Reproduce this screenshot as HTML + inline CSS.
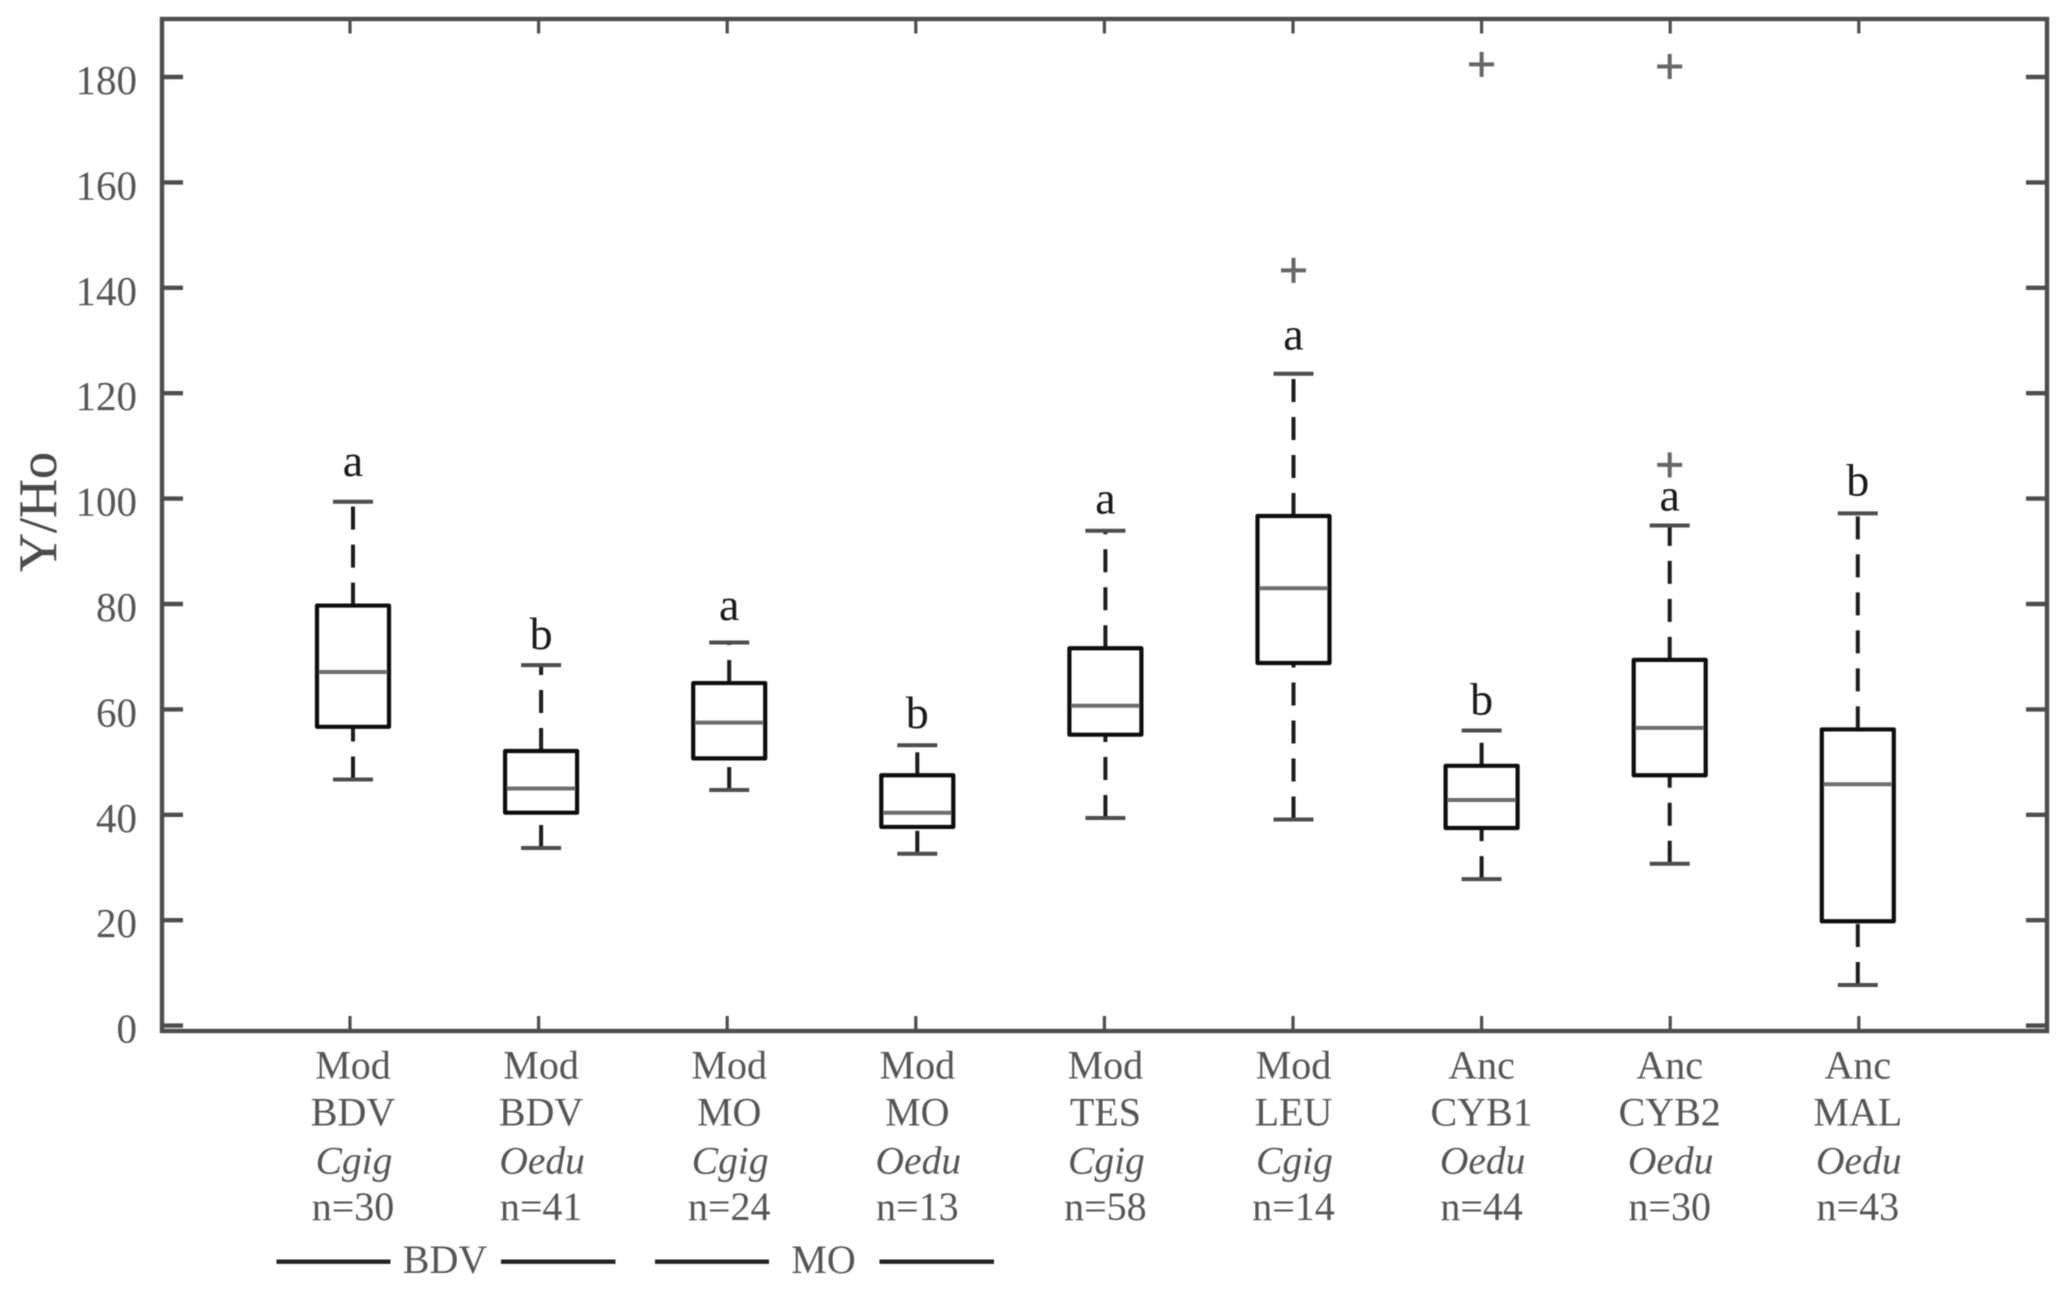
<!DOCTYPE html>
<html lang="en">
<head>
<meta charset="utf-8">
<title>Y/Ho boxplot</title>
<style>
html,body{margin:0;padding:0;background:#fff;}
svg{display:block;filter:blur(0.45px);}
text{font-family:"Liberation Serif",serif;}
</style>
</head>
<body>
<svg id="chart" xmlns="http://www.w3.org/2000/svg" width="2067" height="1293" viewBox="0 0 2067 1293">
<rect x="0" y="0" width="2067" height="1293" fill="#fff"/>
<g id="axes"></g>
<g id="marks"></g>
<g id="labels"></g>
<rect x="162" y="19" width="1885" height="1012" fill="none" stroke="#4d4d4d" stroke-width="4.4"/>
<text transform="translate(56,512) rotate(-90)" text-anchor="middle" font-size="54" fill="#4a4a4a" stroke="#4a4a4a" stroke-width="0.3">Y/Ho</text>
<g>
<line x1="276.5" x2="390.5" y1="1261.7" y2="1261.7" stroke="#222" stroke-width="4.4"/>
<text x="445" y="1273" text-anchor="middle" font-size="40" fill="#555">BDV</text>
<line x1="501" x2="615.5" y1="1261.7" y2="1261.7" stroke="#222" stroke-width="4.4"/>
</g>
<g>
<line x1="655" x2="769" y1="1261.7" y2="1261.7" stroke="#222" stroke-width="4.4"/>
<text x="823.5" y="1273" text-anchor="middle" font-size="40" fill="#555">MO</text>
<line x1="879.5" x2="994" y1="1261.7" y2="1261.7" stroke="#222" stroke-width="4.4"/>
</g>
</svg>
<script>
// ---- data ----
const yTickLabels = [0, 20, 40, 60, 80, 100, 120, 140, 160, 180];
const ages = ["Mod", "Mod", "Mod", "Mod", "Mod", "Mod", "Anc", "Anc", "Anc"];
const sites = ["BDV", "BDV", "MO", "MO", "TES", "LEU", "CYB1", "CYB2", "MAL"];
const species = ["Cgig", "Oedu", "Cgig", "Oedu", "Cgig", "Cgig", "Oedu", "Oedu", "Oedu"];
const counts = ["n=30", "n=41", "n=24", "n=13", "n=58", "n=14", "n=44", "n=30", "n=43"];
const whiskerHigh = [99.4, 68.4, 72.7, 53.2, 93.9, 123.7, 56.0, 94.9, 97.2];
const quartile3 = [79.7, 52.1, 65.0, 47.5, 71.6, 96.7, 49.3, 69.4, 56.2];
const medians = [67.1, 45.0, 57.5, 40.4, 60.7, 83.0, 42.8, 56.5, 45.8];
const quartile1 = [56.7, 40.4, 50.7, 37.7, 55.2, 68.8, 37.5, 47.5, 19.8];
const whiskerLow = [46.7, 33.7, 44.7, 32.6, 39.4, 39.1, 27.8, 30.7, 7.7];
const outliers = [[], [], [], [], [], [143.3], [182.4], [182.0, 106.4], []];
const letters = ["a", "b", "a", "b", "a", "a", "b", "a", "b"];
const letterLevels = [104.3, 71.5, 77.0, 56.5, 97.2, 128.3, 59.0, 97.7, 100.6];

// ---- axis functions ----
const NS = "http://www.w3.org/2000/svg";
function yScale(v) { return 1025.6 - 5.27 * v; }
function xTick(i) { return 350 + 188.6 * i; }
function xMark(i) { return 353 + 188.1 * i; }

function make(tag, parent, attrs, txt) {
  const el = document.createElementNS(NS, tag);
  for (const k in attrs) el.setAttribute(k, attrs[k]);
  if (txt !== undefined) el.textContent = txt;
  parent.appendChild(el);
  return el;
}
const axesG = document.getElementById("axes");
const marksG = document.getElementById("marks");
const labelsG = document.getElementById("labels");

// y ticks
yTickLabels.forEach(function (t) {
  const y = yScale(t);
  const left = make("line", axesG, {x1: 162, x2: 183, y1: y, y2: y, stroke: "#4d4d4d", "stroke-width": 4.4});
  
  
  const right = make("line", axesG, {x1: 2026, x2: 2047, y1: y, y2: y, stroke: "#4d4d4d", "stroke-width": 4.4});
  
  
  const lab = make("text", axesG, {x: 137, y: y + 17, "text-anchor": "end", "font-size": 41, fill: "#555"}, String(t));
  
  
});

// x ticks and labels
sites.forEach(function (s, i) {
  const x = xTick(i);
  const bottom = make("line", axesG, {x1: x, x2: x, y1: 1031, y2: 1016, stroke: "#4d4d4d", "stroke-width": 3.2});
  
  
  const top = make("line", axesG, {x1: x, x2: x, y1: 19, y2: 33.5, stroke: "#4d4d4d", "stroke-width": 3.2});
  
  

  const cx = xMark(i);
  const age = make("text", labelsG, {x: cx, y: 1078.3, "text-anchor": "middle", "font-size": 40, fill: "#555"}, ages[i]);
  
  
  const site = make("text", labelsG, {x: cx, y: 1125.7, "text-anchor": "middle", "font-size": 40, fill: "#555"}, sites[i]);
  
  
  const sp = make("text", labelsG, {x: cx + 1, y: 1173.3, "text-anchor": "middle", "font-size": 39.5, "font-style": "italic", fill: "#555"}, species[i]);
  
  
  const n = make("text", labelsG, {x: cx, y: 1220, "text-anchor": "middle", "font-size": 40, fill: "#555"}, counts[i]);
  
  
});

// boxes
const BOX_W = 72, CAP_W = 40;
sites.forEach(function (s, i) {
  const x = xMark(i);
  const g = make("g", marksG, {});
  
  

  const up = make("line", g, {x1: x, x2: x, y1: yScale(quartile3[i]), y2: yScale(whiskerHigh[i]), stroke: "#1c1c1c", "stroke-width": 4, "stroke-dasharray": "23 15"});
  
  
  const low = make("line", g, {x1: x, x2: x, y1: yScale(whiskerLow[i]), y2: yScale(quartile1[i]), stroke: "#1c1c1c", "stroke-width": 4, "stroke-dasharray": "23 15"});
  
  

  const capHi = make("line", g, {x1: x - CAP_W / 2, x2: x + CAP_W / 2, y1: yScale(whiskerHigh[i]), y2: yScale(whiskerHigh[i]), stroke: "#4d4d4d", "stroke-width": 4});
  
  
  const capLo = make("line", g, {x1: x - CAP_W / 2, x2: x + CAP_W / 2, y1: yScale(whiskerLow[i]), y2: yScale(whiskerLow[i]), stroke: "#4d4d4d", "stroke-width": 4});
  
  

  const box = make("rect", g, {x: x - BOX_W / 2, y: yScale(quartile3[i]), width: BOX_W, height: yScale(quartile1[i]) - yScale(quartile3[i]), fill: "none", stroke: "#0d0d0d", "stroke-width": 4.2, "stroke-linejoin": "round"});
  
  

  const med = make("line", g, {x1: x - BOX_W / 2 + 1.5, x2: x + BOX_W / 2 - 1.5, y1: yScale(medians[i]), y2: yScale(medians[i]), stroke: "#6e6e6e", "stroke-width": 4});
  
  

  outliers[i].forEach(function (v, j) {
    const px = yScale(v);
    const o = make("path", g, {d: "M" + (x - 12.5) + " " + px + "H" + (x + 12.5) + "M" + x + " " + (px - 12.5) + "V" + (px + 12.5), fill: "none", stroke: "#666", "stroke-width": 4});
    
    
  });

  const letter = make("text", g, {x: x, y: yScale(letterLevels[i]), "text-anchor": "middle", "font-size": 46, fill: "#1a1a1a"}, letters[i]);
  
  
});
</script>
</body>
</html>
